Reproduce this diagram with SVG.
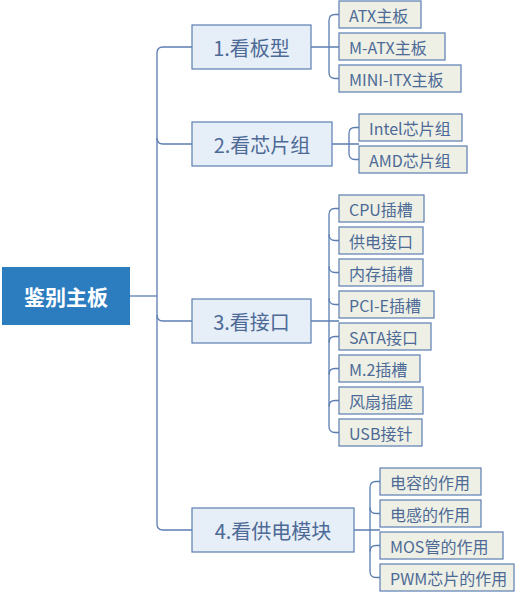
<svg xmlns="http://www.w3.org/2000/svg" width="524" height="592" viewBox="0 0 524 592">
<style>
.c{fill:none;stroke:#5b7db1;stroke-width:1.3}
.l1 rect{fill:#e6eef8;stroke:#5b7db1;stroke-width:1.2}
.l1 text{font-family:"Noto Sans CJK SC","Microsoft YaHei",sans-serif;font-size:20px;fill:#4d6a96;text-anchor:middle;dominant-baseline:central}
.lf rect{fill:#eef0e6;stroke:#5b7db1;stroke-width:1.2}
.lf text{font-family:"Noto Sans CJK SC","Microsoft YaHei",sans-serif;font-size:16px;fill:#4d6a96;dominant-baseline:central}
</style>
<rect width="524" height="592" fill="#fff"/>
<g id="connectors">
<path class="c" d="M130 296H157"/>
<path class="c" d="M192 47H163Q157 47 157 53V524Q157 530 163 530H192"/>
<path class="c" d="M157 138Q157 144 163 144H192"/>
<path class="c" d="M157 315Q157 321 163 321H192"/>
<path class="c" d="M311 47H339M339 14.5H335Q329 14.5 329 20.5V72.5Q329 78.5 335 78.5H339"/>
<path class="c" d="M332 144H359M359 127.5H355Q349 127.5 349 133.5V153.5Q349 159.5 355 159.5H359"/>
<path class="c" d="M311 321H339M339 208.5H335Q329 208.5 329 214.5V426.5Q329 432.5 335 432.5H339"/>
<path class="c" d="M329 234.5Q329 240.5 335 240.5H339M329 266.5Q329 272.5 335 272.5H339M329 298.5Q329 304.5 335 304.5H339M329 342.5Q329 336.5 335 336.5H339M329 374.5Q329 368.5 335 368.5H339M329 406.5Q329 400.5 335 400.5H339"/>
<path class="c" d="M354 530H380M380 481.5H376Q370 481.5 370 487.5V571.5Q370 577.5 376 577.5H380"/>
<path class="c" d="M370 507.5Q370 513.5 376 513.5H380M370 551.5Q370 545.5 376 545.5H380"/>
</g>
<g id="root"><rect x="2" y="267" width="128" height="58" fill="#2b7dc0"/><text x="66" y="296" font-family="'Noto Sans CJK SC','Microsoft YaHei',sans-serif" font-size="21" font-weight="bold" fill="#fff" text-anchor="middle" dominant-baseline="central">鉴别主板</text></g>
<g id="n1" class="l1"><rect x="192" y="25" width="119" height="44"/><text x="251.5" y="47">1.看板型</text></g>
<g id="n2" class="l1"><rect x="192" y="122" width="140" height="44"/><text x="262" y="144">2.看芯片组</text></g>
<g id="n3" class="l1"><rect x="192" y="299" width="119" height="44"/><text x="251.5" y="321">3.看接口</text></g>
<g id="n4" class="l1"><rect x="192" y="508" width="162" height="44"/><text x="273" y="530">4.看供电模块</text></g>
<g id="n1a" class="lf"><rect x="339" y="1" width="82" height="27"/><text x="349" y="14.5">ATX主板</text></g>
<g id="n1b" class="lf"><rect x="339" y="33" width="106" height="27"/><text x="349" y="46.5">M-ATX主板</text></g>
<g id="n1c" class="lf"><rect x="339" y="65" width="122" height="27"/><text x="349" y="78.5">MINI-ITX主板</text></g>
<g id="n2a" class="lf"><rect x="359" y="114" width="103" height="27"/><text x="369" y="127.5">Intel芯片组</text></g>
<g id="n2b" class="lf"><rect x="359" y="146" width="108" height="27"/><text x="369" y="159.5">AMD芯片组</text></g>
<g id="n3a" class="lf"><rect x="339" y="195" width="85" height="27"/><text x="349" y="208.5">CPU插槽</text></g>
<g id="n3b" class="lf"><rect x="339" y="227" width="84" height="27"/><text x="349" y="240.5">供电接口</text></g>
<g id="n3c" class="lf"><rect x="339" y="259" width="84" height="27"/><text x="349" y="272.5">内存插槽</text></g>
<g id="n3d" class="lf"><rect x="339" y="291" width="95" height="27"/><text x="349" y="304.5">PCI-E插槽</text></g>
<g id="n3e" class="lf"><rect x="339" y="323" width="92" height="27"/><text x="349" y="336.5">SATA接口</text></g>
<g id="n3f" class="lf"><rect x="339" y="355" width="81" height="27"/><text x="349" y="368.5">M.2插槽</text></g>
<g id="n3g" class="lf"><rect x="339" y="387" width="84" height="27"/><text x="349" y="400.5">风扇插座</text></g>
<g id="n3h" class="lf"><rect x="339" y="419" width="83" height="27"/><text x="349" y="432.5">USB接针</text></g>
<g id="n4a" class="lf"><rect x="380" y="468" width="101" height="27"/><text x="390" y="481.5">电容的作用</text></g>
<g id="n4b" class="lf"><rect x="380" y="500" width="101" height="27"/><text x="390" y="513.5">电感的作用</text></g>
<g id="n4c" class="lf"><rect x="380" y="532" width="123" height="27"/><text x="390" y="545.5">MOS管的作用</text></g>
<g id="n4d" class="lf"><rect x="380" y="564" width="134" height="27"/><text x="390" y="577.5">PWM芯片的作用</text></g>
</svg>
